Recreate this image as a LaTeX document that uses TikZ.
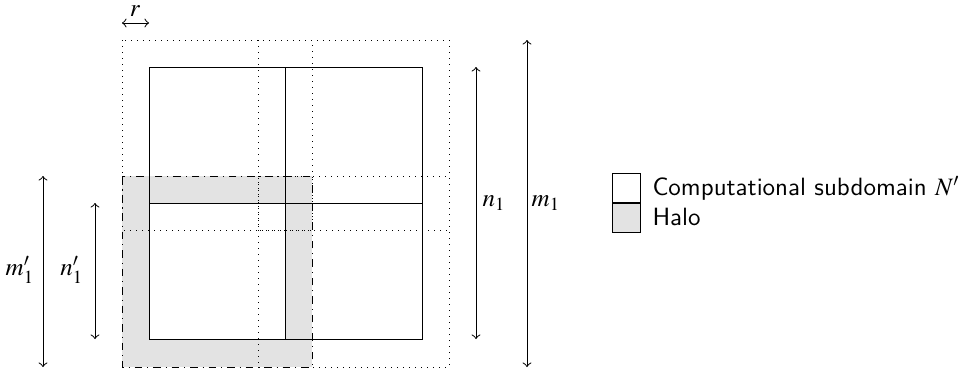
\documentclass[tikz,border=0pt]{standalone}
\usepackage{mathptmx}
\usepackage{tikz}
\begin{document}
\begin{tikzpicture}[x=0.4pt,y=-0.4pt,
  halofill/.style={fill=gray!22},
  dotbox/.style={dotted,line width=0.4pt},
  solidline/.style={line width=0.4pt},
  haloborder/.style={dash dot,line width=0.4pt},
  dimarrow/.style={<->,line width=0.4pt},
  lbl/.style={inner sep=1pt},
  legbox/.style={draw,line width=0.4pt,minimum width=11.2pt,minimum height=11.6pt,inner sep=0pt},
  legtext/.style={anchor=west,inner sep=0pt,font=\sffamily}]
\useasboundingbox (0,0) rectangle (960,373);
% halo region of bottom-left subdomain
\fill[halofill] (122,176) rectangle (312,367);
\fill[white] (149,203) rectangle (285,339);
% dotted extended regions
\draw[dotbox] (122,40) rectangle (312,230);
\draw[dotbox] (258,40) rectangle (449,230);
\draw[dotbox] (258,176) rectangle (449,367);
% subdomains
\draw[solidline] (149,67) rectangle (422,339);
\draw[solidline] (285,67) -- (285,339);
\draw[solidline] (149,203) -- (422,203);
% halo border
\draw[haloborder] (122,176) rectangle (312,367);
% dimension arrows
\coordinate (ra) at (122,23); \coordinate (rb) at (149,23);
\draw[dimarrow] (ra) -- (rb);
\node[inner sep=0pt,anchor=base] (rl) at (135,16) {$r$};
\coordinate (na) at (476,67); \coordinate (nb) at (476,339);
\draw[dimarrow] (na) -- (nb);
\node[lbl] (nl) at (494,203) {$n_1$};
\coordinate (ma) at (527,40); \coordinate (mb) at (527,367);
\draw[dimarrow] (ma) -- (mb);
\node[lbl] (ml) at (546,203) {$m_1$};
\coordinate (mpa) at (43,176); \coordinate (mpb) at (43,367);
\draw[dimarrow] (mpa) -- (mpb);
\node[lbl] (mpl) at (20,270) {$m_1'$};
\coordinate (npa) at (95,203); \coordinate (npb) at (95,339);
\draw[dimarrow] (npa) -- (npb);
\node[lbl] (npl) at (72,270) {$n_1'$};
% legend
\node[legbox,fill=white,anchor=south west] (lw) at (612,203) {};
\node[legbox,halofill,anchor=north west] (lg) at (612,203) {};
\node[legtext] (tw) at (652,188) {Computational subdomain $N'$};
\node[legtext] (tg) at (652,217) {Halo};
\end{tikzpicture}
\end{document}
